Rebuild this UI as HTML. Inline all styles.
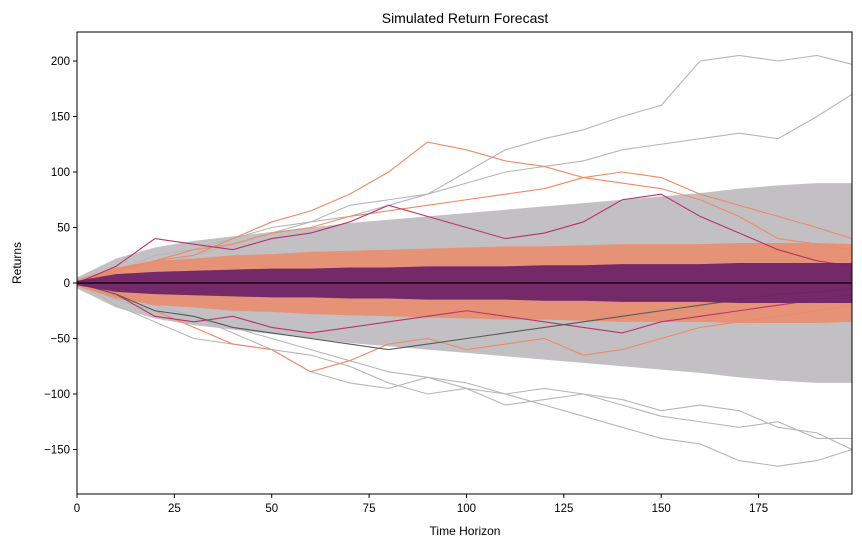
<!DOCTYPE html>
<html><head><meta charset="utf-8"><style>
html,body{margin:0;padding:0;background:#fff;}
svg{display:block;font-family:"Liberation Sans","DejaVu Sans",sans-serif;}
</style></head><body>
<svg id="chart" width="862" height="547">
<text x="465" y="23" text-anchor="middle" font-size="14">Simulated Return Forecast</text>
<text x="465" y="535" text-anchor="middle" font-size="12">Time Horizon</text>
<text x="21" y="263" text-anchor="middle" font-size="12" transform="rotate(-90 21 263)">Returns</text>
<g id="plot"></g>
<g id="axes"></g>
</svg>
<script>
const times = [0,10,20,30,40,50,60,70,80,90,100,110,120,130,140,150,160,170,180,190,199];
const greyUpper = [5,22,32,38,42,46,50,54,57,60,63,66,69,72,75,78,81,85,88,90,90];
const greyLower = [-5,-22,-32,-38,-42,-46,-50,-54,-57,-60,-63,-66,-69,-72,-75,-78,-81,-85,-88,-90,-90];
const orangeUpper = [3,14,20,22,25,26,28,29,30,31,32,33,33,34,35,35,35,36,36,36,35];
const orangeLower = [-3,-14,-20,-22,-25,-26,-28,-29,-30,-31,-32,-33,-33,-34,-35,-35,-35,-36,-36,-36,-35];
const purpleUpper = [2,8,10,11,12,13,13,14,14,15,15,15,16,16,17,17,17,18,18,18,18];
const purpleLower = [-2,-8,-10,-11,-12,-13,-13,-14,-14,-15,-15,-15,-16,-16,-17,-17,-17,-18,-18,-18,-18];
const greyLine1 = [0,10,25,30,40,50,55,70,75,80,100,120,130,138,150,160,200,205,200,205,197];
const greyLine2 = [0,5,15,25,35,45,55,60,70,80,90,100,105,110,120,125,130,135,130,150,170];
const greyLine3 = [0,-10,-20,-30,-45,-60,-80,-90,-95,-85,-90,-100,-110,-120,-130,-140,-145,-160,-165,-160,-150];
const greyLine4 = [0,-15,-25,-30,-40,-50,-60,-70,-80,-85,-95,-110,-105,-100,-110,-120,-125,-130,-125,-140,-140];
const greyLine5 = [0,-20,-35,-50,-55,-60,-65,-75,-90,-100,-95,-100,-95,-100,-105,-115,-110,-115,-130,-135,-150];
const orangeLine1 = [0,10,20,25,40,55,65,80,100,127,120,110,105,95,90,85,75,60,40,35,30];
const orangeLine2 = [0,-10,-25,-40,-55,-60,-80,-70,-55,-50,-60,-55,-50,-65,-60,-50,-40,-35,-30,-25,-20];
const orangeLine3 = [0,12,20,30,35,45,50,60,65,70,75,80,85,95,100,95,80,70,60,50,40];
const magentaLine1 = [0,15,40,35,30,40,45,55,70,60,50,40,45,55,75,80,60,45,30,20,15];
const magentaLine2 = [0,-10,-30,-35,-30,-40,-45,-40,-35,-30,-25,-30,-35,-40,-45,-35,-30,-25,-20,-15,-10];
const darkLine1 = [0,-10,-25,-30,-40,-45,-50,-55,-60,-55,-50,-45,-40,-35,-30,-25,-20,-15,-10,-8,-5];
const xTicks = [0,25,50,75,100,125,150,175];
const yTicks = [200,150,100,50,0,-50,-100,-150];

const NS = "http://www.w3.org/2000/svg";
const L=77, R=852, T=32, B=494;
const xS = t => L + t*(R-L)/199;
const yS = v => 283 - v*1.11;
const plot = document.getElementById('plot');
const axes = document.getElementById('axes');

function band(up, lo, fill, op, name){
  const pts = times.map((t,i)=>xS(t)+','+yS(up[i])).concat(times.map((t,i)=>[t,i]).reverse().map(([t,i])=>xS(t)+','+yS(lo[i])));
  const p = document.createElementNS(NS,'polygon');
  p.setAttribute('points', pts.join(' '));
  p.setAttribute('fill', fill); p.setAttribute('fill-opacity', op);
  
  
  plot.appendChild(p);
}
function line(vals, color, name, w){
  const p = document.createElementNS(NS,'polyline');
  p.setAttribute('points', times.map((t,i)=>xS(t)+','+yS(vals[i])).join(' '));
  p.setAttribute('fill','none'); p.setAttribute('stroke',color); p.setAttribute('stroke-width',w||1.1);
  
  
  plot.appendChild(p);
}
[greyLine1,greyLine2,greyLine3,greyLine4,greyLine5].forEach((v,i)=>line(v,'#b8b5b9','grey-sim-line-'+(i+1)));
band(greyUpper, greyLower, '#b8b5b9', 0.85, 'grey-sim-band');
line(orangeLine1,'#ee8a65','orange-sim-line-1');
line(orangeLine2,'#ee8a65','orange-sim-line-2');
line(orangeLine3,'#ee8a65','orange-sim-line-3');
band(orangeUpper, orangeLower, '#ec8a6a', 0.85, 'orange-sim-band');
line(magentaLine1,'#b8336a','magenta-sim-line-1');
line(magentaLine2,'#b8336a','magenta-sim-line-2');
line(darkLine1,'#5a5a5a','dark-sim-line-1');
band(purpleUpper, purpleLower, '#6e2468', 0.95, 'purple-sim-band');

const zero = document.createElementNS(NS,'line');
zero.setAttribute('x1',L); zero.setAttribute('x2',R); zero.setAttribute('y1',yS(0)); zero.setAttribute('y2',yS(0));
zero.setAttribute('stroke','#000'); zero.setAttribute('stroke-width',1.2);


plot.appendChild(zero);

const frame = document.createElementNS(NS,'rect');
frame.setAttribute('x',L); frame.setAttribute('y',T); frame.setAttribute('width',R-L); frame.setAttribute('height',B-T);
frame.setAttribute('fill','none'); frame.setAttribute('stroke','#000'); frame.setAttribute('stroke-width',1);


axes.appendChild(frame);

xTicks.forEach(t=>{
  const x=xS(t);
  const tk=document.createElementNS(NS,'line');
  tk.setAttribute('x1',x);tk.setAttribute('x2',x);tk.setAttribute('y1',B);tk.setAttribute('y2',B+4);tk.setAttribute('stroke','#000');
  
  
  axes.appendChild(tk);
  const tx=document.createElementNS(NS,'text');
  tx.setAttribute('x',x);tx.setAttribute('y',B+18);tx.setAttribute('text-anchor','middle');tx.setAttribute('font-size','11.5');
  tx.textContent=t;
  
  
  axes.appendChild(tx);
});
yTicks.forEach(v=>{
  const y=yS(v);
  const tk=document.createElementNS(NS,'line');
  tk.setAttribute('x1',L-4);tk.setAttribute('x2',L);tk.setAttribute('y1',y);tk.setAttribute('y2',y);tk.setAttribute('stroke','#000');
  
  
  axes.appendChild(tk);
  const tx=document.createElementNS(NS,'text');
  tx.setAttribute('x',L-7);tx.setAttribute('y',y+4);tx.setAttribute('text-anchor','end');tx.setAttribute('font-size','11.5');
  tx.textContent=(v<0?'\u2212'+(-v):String(v));
  
  
  axes.appendChild(tx);
});
</script>
</body></html>
